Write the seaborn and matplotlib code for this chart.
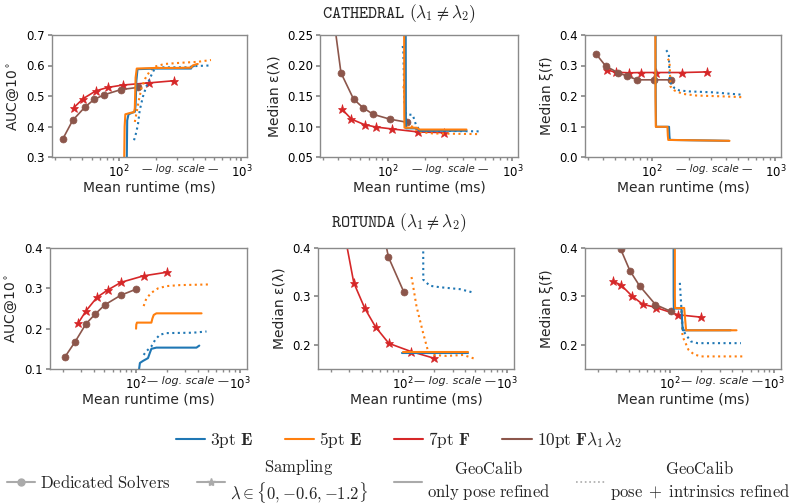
import numpy as np
import matplotlib
matplotlib.use("Agg")
from matplotlib import pyplot as plt
from matplotlib.lines import Line2D
from matplotlib.font_manager import FontProperties
from matplotlib.ticker import FormatStrFormatter, NullFormatter, FixedLocator
import seaborn as sns

# ---------------- data ----------------
# CATHEDRAL, runtimes in ms
cat_rt_ded = [35, 42, 53, 63, 76, 104, 142]
cat_rt_smp = [43, 51, 65, 81, 108, 176, 281]
cat_auc_ded = [0.360, 0.420, 0.464, 0.489, 0.504, 0.521, 0.528]
cat_auc_smp = [0.462, 0.491, 0.517, 0.528, 0.536, 0.543, 0.550]
cat_lam_ded = [0.31, 0.188, 0.145, 0.131, 0.120, 0.112, 0.107]
cat_lam_smp = [0.128, 0.112, 0.103, 0.099, 0.096, 0.091, 0.090]
cat_foc_ded = [0.338, 0.298, 0.276, 0.265, 0.253, 0.253, 0.253]
cat_foc_smp = [0.285, 0.278, 0.276, 0.277, 0.277, 0.277, 0.279]

# GeoCalib curves, CATHEDRAL
cat_auc_g3_x = [116, 117, 120, 130, 135, 137, 139, 142, 200, 300, 388, 395, 410]
cat_auc_g3_y = [0.28, 0.42, 0.44, 0.446, 0.448, 0.47, 0.55, 0.588, 0.59, 0.59, 0.59, 0.596, 0.598]
cat_auc_g5_x = [110.5, 111.5, 113, 125, 133, 135, 137, 140, 200, 300, 388, 400, 427, 440]
cat_auc_g5_y = [0.28, 0.40, 0.44, 0.445, 0.447, 0.46, 0.56, 0.59, 0.592, 0.592, 0.593, 0.600, 0.604, 0.605]
cat_auc_g3i_x = [133, 139, 143.5, 148, 157, 167, 184, 196, 222, 365, 413, 547]
cat_auc_g3i_y = [0.355, 0.382, 0.41, 0.453, 0.497, 0.53, 0.568, 0.59, 0.594, 0.594, 0.598, 0.6]
cat_auc_g5i_x = [135, 139, 145.6, 152.8, 164.5, 178, 195, 236, 322, 440, 564]
cat_auc_g5i_y = [0.415, 0.442, 0.486, 0.525, 0.558, 0.58, 0.596, 0.605, 0.609, 0.612, 0.618]

cat_lam_g3_x = [139, 139.5, 140, 170, 180, 300, 420]
cat_lam_g3_y = [0.30, 0.12, 0.097, 0.097, 0.093, 0.093, 0.093]
cat_lam_g5_x = [135, 135.5, 136, 170, 180, 300, 428]
cat_lam_g5_y = [0.30, 0.12, 0.098, 0.098, 0.095, 0.095, 0.095]
cat_lam_g3i_x = [131.5, 133, 136, 140, 158.5, 168.5, 180, 250, 550]
cat_lam_g3i_y = [0.232, 0.225, 0.14, 0.12, 0.119, 0.102, 0.094, 0.093, 0.092]
cat_lam_g5i_x = [133, 135.5, 140, 158.5, 175, 230, 550]
cat_lam_g5i_y = [0.166, 0.16, 0.102, 0.0996, 0.0913, 0.0886, 0.0875]

cat_foc_g3_x = [106.5, 106.8, 107.5, 137, 138, 139, 200, 300, 420]
cat_foc_g3_y = [0.5, 0.2, 0.099, 0.099, 0.07, 0.056, 0.055, 0.054, 0.053]
cat_foc_g5_x = [106, 106.4, 107, 133, 134, 135, 200, 300, 424]
cat_foc_g5_y = [0.5, 0.2, 0.099, 0.099, 0.07, 0.056, 0.055, 0.054, 0.053]
cat_foc_g3i_x = [130, 136.5, 138.2, 142.6, 151.8, 166.6, 200.7, 310, 544]
cat_foc_g3i_y = [0.350, 0.339, 0.264, 0.237, 0.226, 0.218, 0.215, 0.212, 0.204]
cat_foc_g5i_x = [134, 138.2, 140.8, 151.8, 177, 227.5, 424, 544]
cat_foc_g5i_y = [0.322, 0.314, 0.231, 0.218, 0.207, 0.2016, 0.198, 0.196]

# ROTUNDA
rot_rt_ded = [20.9, 26.1, 33.3, 40.8, 50.5, 72.1, 101.5]
rot_rt_smp = [27.9, 33.3, 42.6, 54, 72.6, 119.5, 200.8]
rot_auc_ded = [0.130, 0.167, 0.212, 0.236, 0.259, 0.283, 0.298]
rot_auc_smp = [0.213, 0.244, 0.278, 0.296, 0.315, 0.331, 0.340]
rot_lam_ded = [0.95, 0.80, 0.70, 0.62, 0.54, 0.381, 0.309]
rot_lam_smp = [0.415, 0.328, 0.275, 0.237, 0.203, 0.186, 0.172]
rot_foc_ded = [0.55, 0.47, 0.397, 0.353, 0.322, 0.283, 0.269]
rot_foc_smp = [0.331, 0.324, 0.301, 0.284, 0.277, 0.262, 0.257]

rot_auc_g3_x = [108, 110, 117.7, 131.6, 136.6, 141.8, 158.5, 385, 410]
rot_auc_g3_y = [0.10, 0.115, 0.12, 0.127, 0.139, 0.15, 0.153, 0.153, 0.158]
rot_auc_g5_x = [101, 101.5, 103, 141.8, 145, 149.4, 158.5, 431]
rot_auc_g5_y = [0.20, 0.21, 0.215, 0.215, 0.225, 0.234, 0.238, 0.238]
rot_auc_g3i_x = [119.5, 126.9, 141.8, 154, 170.8, 198, 358, 481]
rot_auc_g3i_y = [0.135, 0.144, 0.156, 0.172, 0.185, 0.189, 0.190, 0.193]
rot_auc_g5i_x = [119.5, 126.9, 141.8, 164.4, 198, 266, 500]
rot_auc_g5i_y = [0.256, 0.275, 0.289, 0.300, 0.3055, 0.308, 0.3096]

rot_lam_g3_x = [97, 420]
rot_lam_g3_y = [0.184, 0.184]
rot_lam_g5_x = [99, 426]
rot_lam_g5_y = [0.185, 0.185]
rot_lam_g3i_x = [156, 156.5, 181, 226, 353, 476]
rot_lam_g3i_y = [0.45, 0.3345, 0.322, 0.319, 0.315, 0.308]
rot_lam_g5i_x = [120.4, 124.9, 134.6, 156, 174.4, 195, 262.6, 380.6, 512]
rot_lam_g5i_y = [0.34, 0.3207, 0.2793, 0.2241, 0.186, 0.179, 0.177, 0.179, 0.170]

rot_foc_g3_x = [107.7, 108, 108.5, 128.7, 131.6, 132.5, 385]
rot_foc_g3_y = [0.6, 0.3, 0.275, 0.275, 0.235, 0.23, 0.23]
rot_foc_g5_x = [110.9, 111, 111.5, 136.6, 141.8, 142.5, 438]
rot_foc_g5_y = [0.6, 0.3, 0.276, 0.276, 0.235, 0.23, 0.23]
rot_foc_g3i_x = [124, 128.7, 131.6, 138.6, 158.5, 183.9, 300, 483]
rot_foc_g3i_y = [0.328, 0.272, 0.238, 0.224, 0.207, 0.2034, 0.2034, 0.2034]
rot_foc_g5i_x = [128.7, 131.6, 138.6, 150, 170, 200, 300, 519]
rot_foc_g5i_y = [0.27, 0.217, 0.207, 0.19, 0.18, 0.176, 0.176, 0.176]

solver_labels = [r"$\mathrm{3pt}\ \mathbf{E}$", r"$\mathrm{5pt}\ \mathbf{E}$",
                 r"$\mathrm{7pt}\ \mathbf{F}$", r"$\mathrm{10pt}\ \mathbf{F}\lambda_1\lambda_2$"]
method_labels = [r"$\mathrm{Dedicated\ Solvers}$",
                 r"$\mathrm{Sampling}$" + "\n" + r"$\lambda \in \{0, {-}0.6, {-}1.2\}$",
                 r"$\mathrm{GeoCalib}$" + "\n" + r"$\mathrm{only\ pose\ refined}$",
                 r"$\mathrm{GeoCalib}$" + "\n" + r"$\mathrm{pose}\;+\;\mathrm{intrinsics\ refined}$"]

# ---------------- styling ----------------
C3, C5, C7, C10 = "#1f77b4", "#ff7f0e", "#d62728", "#8c564b"
GREY = "#aaaaaa"
STYLE = {
    "ded": dict(marker="o", markersize=5, linewidth=1.2, markeredgewidth=0.5),
    "smp": dict(marker="*", markersize=6.5, linewidth=1.2, markeredgewidth=0.5),
    "geo": dict(linewidth=1.5),
    "geoi": dict(linewidth=1.5, linestyle=":"),
}

sns.set_theme(style="ticks")
plt.rcParams["font.family"] = ["DejaVu Sans"]

W, H = 797, 504
fig = plt.figure(figsize=(W / 100, H / 100), dpi=100)


def rect(l, r, t, b):
    return [l / W, 1 - b / H, (r - l) / W, (b - t) / H]


def draw(ax, x, y, color, kind):
    kw = dict(STYLE[kind])
    if "marker" in kw:
        kw["markeredgecolor"] = color
    sns.lineplot(x=x, y=y, ax=ax, color=color, sort=False, estimator=None, **kw)


def panel(pos, xlim, ylim, yticks, yfmt, ylabel, ded, smp, geo, tight):
    ax = fig.add_axes(pos)
    rt_d, v_d = ded
    rt_s, v_s = smp
    draw(ax, rt_s, v_s, C7, "smp")
    draw(ax, rt_d, v_d, C10, "ded")
    (g3x, g3y), (g5x, g5y), (g3ix, g3iy), (g5ix, g5iy) = geo
    draw(ax, g3ix, g3iy, C3, "geoi")
    draw(ax, g5ix, g5iy, C5, "geoi")
    draw(ax, g3x, g3y, C3, "geo")
    draw(ax, g5x, g5y, C5, "geo")
    ax.set_xscale("log")
    ax.set_xlim(*xlim)
    ax.set_ylim(*ylim)
    ax.yaxis.set_major_locator(FixedLocator(yticks))
    ax.yaxis.set_major_formatter(FormatStrFormatter(yfmt))
    ax.xaxis.set_minor_formatter(NullFormatter())
    ax.set_xlabel("Mean runtime (ms)", fontsize=10, labelpad=0)
    ax.set_ylabel(ylabel, fontsize=10, labelpad=4)
    for s in ax.spines.values():
        s.set_color("#8a8a8a")
        s.set_linewidth(1.0)
    ax.tick_params(axis="both", which="both", colors="#8a8a8a", labelcolor="black",
                   labelsize=8.5, pad=2)
    ax.tick_params(which="major", length=3)
    ax.tick_params(which="minor", length=2)
    ax.text(10 ** 2.5, -0.1, "\u2014 log. scale \u2014", transform=ax.get_xaxis_transform(),
            ha="center", va="center", style="italic", fontsize=8 if tight else 7.5)
    return ax


top_xlim = (28.5, 1110)
bot_xlim = (15, 1180)

panel(rect(52, 247, 35, 157), top_xlim, (0.3, 0.7), [0.3, 0.4, 0.5, 0.6, 0.7], "%.1f",
      r"AUC@10$^\circ$", (cat_rt_ded, cat_auc_ded), (cat_rt_smp, cat_auc_smp),
      [(cat_auc_g3_x, cat_auc_g3_y), (cat_auc_g5_x, cat_auc_g5_y),
       (cat_auc_g3i_x, cat_auc_g3i_y), (cat_auc_g5i_x, cat_auc_g5i_y)], False)
panel(rect(320, 518, 35, 157), top_xlim, (0.05, 0.25), [0.05, 0.10, 0.15, 0.20, 0.25], "%.2f",
      "Median \u03b5(\u03bb)", (cat_rt_ded, cat_lam_ded), (cat_rt_smp, cat_lam_smp),
      [(cat_lam_g3_x, cat_lam_g3_y), (cat_lam_g5_x, cat_lam_g5_y),
       (cat_lam_g3i_x, cat_lam_g3i_y), (cat_lam_g5i_x, cat_lam_g5i_y)], False)
panel(rect(585, 781, 35, 157), top_xlim, (0.0, 0.4), [0.0, 0.1, 0.2, 0.3, 0.4], "%.1f",
      "Median \u03be(f)", (cat_rt_ded, cat_foc_ded), (cat_rt_smp, cat_foc_smp),
      [(cat_foc_g3_x, cat_foc_g3_y), (cat_foc_g5_x, cat_foc_g5_y),
       (cat_foc_g3i_x, cat_foc_g3i_y), (cat_foc_g5i_x, cat_foc_g5i_y)], False)

panel(rect(50, 247, 248, 369), bot_xlim, (0.1, 0.4), [0.1, 0.2, 0.3, 0.4], "%.1f",
      r"AUC@10$^\circ$", (rot_rt_ded, rot_auc_ded), (rot_rt_smp, rot_auc_smp),
      [(rot_auc_g3_x, rot_auc_g3_y), (rot_auc_g5_x, rot_auc_g5_y),
       (rot_auc_g3i_x, rot_auc_g3i_y), (rot_auc_g5i_x, rot_auc_g5i_y)], True)
panel(rect(318, 514, 248, 369), bot_xlim, (0.15, 0.4), [0.2, 0.3, 0.4], "%.1f",
      "Median \u03b5(\u03bb)", (rot_rt_ded, rot_lam_ded), (rot_rt_smp, rot_lam_smp),
      [(rot_lam_g3_x, rot_lam_g3_y), (rot_lam_g5_x, rot_lam_g5_y),
       (rot_lam_g3i_x, rot_lam_g3i_y), (rot_lam_g5i_x, rot_lam_g5i_y)], True)
panel(rect(585, 781, 248, 369), bot_xlim, (0.15, 0.4), [0.2, 0.3, 0.4], "%.1f",
      "Median \u03be(f)", (rot_rt_ded, rot_foc_ded), (rot_rt_smp, rot_foc_smp),
      [(rot_foc_g3_x, rot_foc_g3_y), (rot_foc_g5_x, rot_foc_g5_y),
       (rot_foc_g3i_x, rot_foc_g3i_y), (rot_foc_g5i_x, rot_foc_g5i_y)], True)

# row titles
fig.text(0.5, 1 - 14 / H, r"$\mathtt{CATHEDRAL}\ (\lambda_1 \neq \lambda_2)$",
         ha="center", va="center", fontsize=12.5, math_fontfamily="cm")
fig.text(0.5, 1 - 223 / H, r"$\mathtt{ROTUNDA}\ (\lambda_1 \neq \lambda_2)$",
         ha="center", va="center", fontsize=12.5, math_fontfamily="cm")

# legends
prop = FontProperties(size=12, math_fontfamily="cm")
h1 = [Line2D([], [], color=c, lw=1.5) for c in (C3, C5, C7, C10)]
fig.legend(h1, solver_labels, loc="center", bbox_to_anchor=(0.5, 1 - 440 / H), ncol=4,
           frameon=False, prop=FontProperties(size=12.5, math_fontfamily="cm"),
           handlelength=1.7, handletextpad=0.3, columnspacing=1.8)

h2 = [Line2D([], [], color=GREY, lw=1.5, marker="o", markersize=5),
      Line2D([], [], color=GREY, lw=1.5, marker="*", markersize=6),
      Line2D([], [], color=GREY, lw=1.5),
      Line2D([], [], color=GREY, lw=1.2, linestyle=":")]
leg2 = fig.legend(h2, method_labels, loc="center", bbox_to_anchor=(0.5, 1 - 481 / H), ncol=4,
                  frameon=False, prop=prop, handlelength=1.7, handletextpad=0.3,
                  columnspacing=1.55, borderpad=0.0, borderaxespad=0.0)
for t in leg2.get_texts():
    t.set_multialignment("center")

fig.savefig("out.png", dpi=100)
